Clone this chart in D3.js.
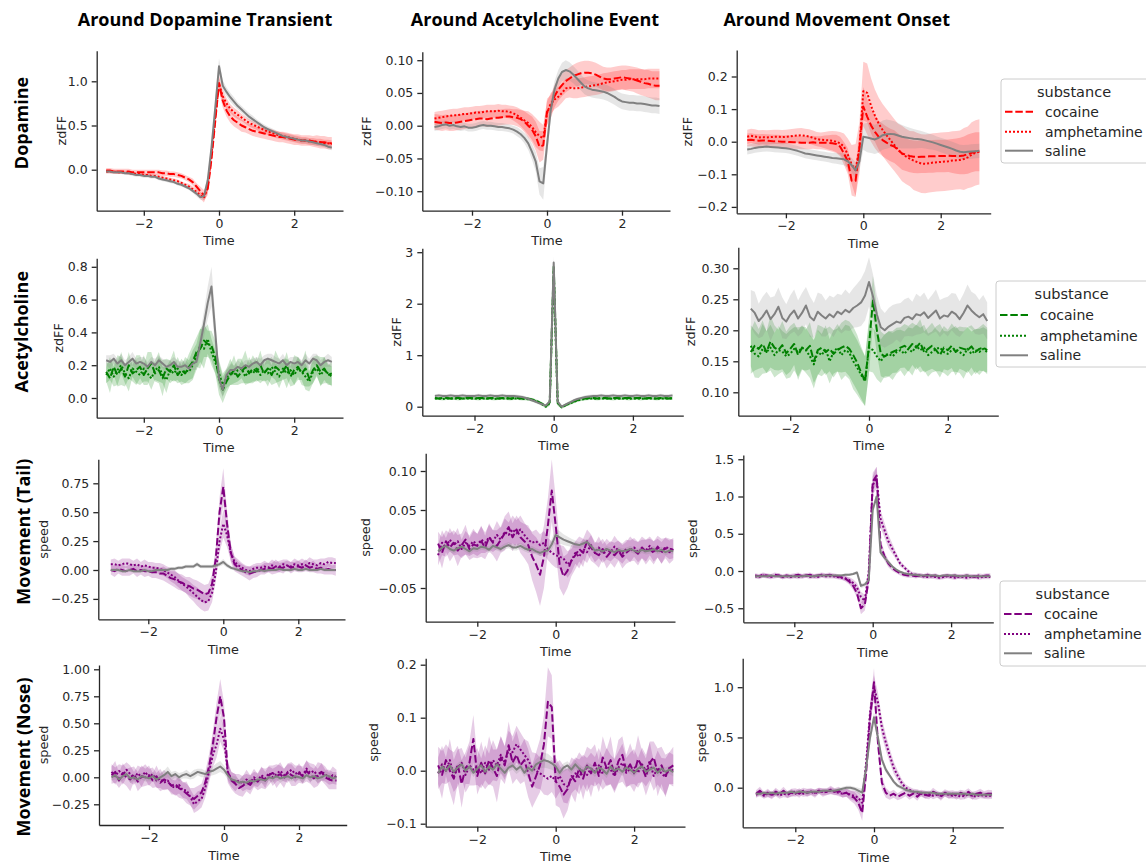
<!DOCTYPE html>
<html><head><meta charset="utf-8">
<script src="https://cdnjs.cloudflare.com/ajax/libs/d3/7.8.5/d3.min.js"></script>
<style>
  body { margin: 0; background: #fff; }
  svg { display: block; }
  .tick text { font-family: "DejaVu Sans", sans-serif; font-size: 12.5px; fill: #262626; }
  .tick line, .domain { stroke: #262626; stroke-width: 1.3; }
  .axlabel { font-family: "DejaVu Sans", sans-serif; font-size: 12.8px; fill: #262626; }
  .heading { font-family: "Open Sans", sans-serif; font-weight: 700; font-size: 18px; fill: #000; }
  .legtext { font-family: "DejaVu Sans", sans-serif; font-size: 14px; fill: #262626; }
</style>
</head>
<body>
<svg id="chart" width="1146" height="867"></svg>
<script>
// ---- shared categories / labels ----
const colTitles = ["Around Dopamine Transient", "Around Acetylcholine Event", "Around Movement Onset"];
const rowNames = ["Dopamine", "Acetylcholine", "Movement (Tail)", "Movement (Nose)"];
const rowYLabels = ["zdFF", "zdFF", "speed", "speed"];
const substances = ["cocaine", "amphetamine", "saline"];
const xTicks = [-2, 0, 2];
const xTickLabels = ["\u22122", "0", "2"];

const time = [
-3.0,-2.9,-2.8,-2.7,-2.6,-2.5,-2.4,-2.3,-2.2,-2.1,
-2.0,-1.9,-1.8,-1.7,-1.6,-1.5,-1.4,-1.3,-1.2,-1.1,
-1.0,-0.9,-0.8,-0.7,-0.6,-0.5,-0.4,-0.3,-0.2,-0.1,
0.0,0.1,0.2,0.3,0.4,0.5,0.6,0.7,0.8,0.9,
1.0,1.1,1.2,1.3,1.4,1.5,1.6,1.7,1.8,1.9,
2.0,2.1,2.2,2.3,2.4,2.5,2.6,2.7,2.8,2.9,
3.0];

// ---- Dopamine, around dopamine transient ----
const yTicks_daDA = [0, 0.5, 1.0];
const yTickLabels_daDA = ["0.0", "0.5", "1.0"];
const daDA_coc = [
-0.01,-0.01,-0.02,-0.02,-0.02,-0.02,-0.02,-0.03,-0.03,-0.03,
-0.03,-0.03,-0.03,-0.03,-0.03,-0.04,-0.04,-0.05,-0.05,-0.06,
-0.07,-0.09,-0.11,-0.14,-0.19,-0.24,-0.29,-0.22,0.12,0.55,
0.98,0.78,0.67,0.60,0.56,0.53,0.50,0.48,0.46,0.44,
0.43,0.42,0.41,0.40,0.39,0.38,0.37,0.37,0.36,0.35,
0.34,0.34,0.33,0.33,0.33,0.32,0.32,0.31,0.31,0.30,
0.30];
const daDA_cocCi = [
0.03,0.03,0.03,0.03,0.03,0.03,0.03,0.03,0.03,0.03,
0.03,0.03,0.03,0.03,0.03,0.03,0.03,0.03,0.03,0.03,
0.03,0.03,0.03,0.04,0.04,0.05,0.06,0.07,0.08,0.08,
0.09,0.08,0.07,0.07,0.07,0.07,0.07,0.06,0.06,0.06,
0.06,0.06,0.06,0.06,0.06,0.06,0.06,0.06,0.06,0.06,
0.06,0.06,0.06,0.06,0.06,0.06,0.07,0.07,0.07,0.07,
0.07];
const daDA_amp = [
-0.02,-0.02,-0.02,-0.03,-0.03,-0.03,-0.04,-0.04,-0.05,-0.05,
-0.06,-0.06,-0.07,-0.07,-0.08,-0.09,-0.10,-0.11,-0.12,-0.13,
-0.15,-0.17,-0.19,-0.22,-0.25,-0.29,-0.32,-0.20,0.18,0.60,
0.97,0.83,0.75,0.69,0.65,0.62,0.59,0.56,0.53,0.51,
0.49,0.47,0.45,0.43,0.42,0.40,0.39,0.38,0.37,0.36,
0.35,0.34,0.33,0.33,0.32,0.32,0.31,0.31,0.30,0.30,
0.29];
const daDA_ampCi = [
0.02,0.02,0.02,0.02,0.02,0.02,0.02,0.02,0.02,0.02,
0.02,0.02,0.02,0.02,0.02,0.02,0.02,0.02,0.02,0.02,
0.02,0.02,0.03,0.03,0.03,0.04,0.05,0.06,0.07,0.07,
0.08,0.07,0.06,0.05,0.05,0.05,0.04,0.04,0.04,0.04,
0.04,0.04,0.04,0.04,0.04,0.04,0.04,0.04,0.04,0.04,
0.04,0.04,0.04,0.04,0.04,0.04,0.04,0.04,0.04,0.04,
0.04];
const daDA_sal = [
-0.02,-0.02,-0.03,-0.03,-0.03,-0.04,-0.04,-0.05,-0.06,-0.06,
-0.07,-0.07,-0.08,-0.08,-0.10,-0.11,-0.12,-0.13,-0.14,-0.16,
-0.17,-0.19,-0.21,-0.24,-0.27,-0.31,-0.30,-0.12,0.25,0.70,
1.17,0.95,0.88,0.82,0.77,0.72,0.68,0.64,0.60,0.57,
0.54,0.51,0.48,0.46,0.44,0.42,0.40,0.38,0.37,0.36,
0.35,0.34,0.33,0.33,0.32,0.31,0.30,0.29,0.28,0.26,
0.25];
const daDA_salCi = [
0.02,0.02,0.02,0.02,0.02,0.02,0.02,0.02,0.02,0.02,
0.02,0.02,0.02,0.02,0.02,0.02,0.02,0.02,0.02,0.02,
0.02,0.02,0.02,0.02,0.03,0.03,0.04,0.05,0.06,0.07,
0.09,0.06,0.05,0.05,0.05,0.04,0.04,0.04,0.04,0.04,
0.03,0.03,0.03,0.03,0.03,0.03,0.03,0.03,0.03,0.03,
0.03,0.03,0.03,0.03,0.03,0.03,0.03,0.03,0.03,0.03,
0.03];

// ---- Dopamine, around acetylcholine event ----
const yTicks_daACh = [-0.10, -0.05, 0, 0.05, 0.10];
const yTickLabels_daACh = ["\u22120.10", "\u22120.05", "0.00", "0.05", "0.10"];
const daACh_coc = [
0.006,0.005,0.004,0.005,0.004,0.004,0.005,0.006,0.007,0.008,
0.009,0.010,0.011,0.011,0.010,0.011,0.012,0.012,0.013,0.014,
0.014,0.013,0.012,0.010,0.006,0.000,-0.006,-0.016,-0.032,-0.030,
0.021,0.029,0.045,0.055,0.062,0.068,0.072,0.076,0.078,0.080,
0.081,0.081,0.080,0.078,0.075,0.072,0.071,0.071,0.072,0.073,
0.074,0.073,0.072,0.071,0.069,0.067,0.065,0.064,0.062,0.061,
0.061];
const daACh_cocCi = [
0.012,0.012,0.012,0.012,0.012,0.012,0.012,0.012,0.012,0.012,
0.012,0.012,0.012,0.012,0.012,0.012,0.012,0.012,0.012,0.012,
0.012,0.012,0.013,0.014,0.016,0.018,0.020,0.022,0.024,0.022,
0.020,0.018,0.017,0.017,0.017,0.017,0.017,0.017,0.018,0.018,
0.018,0.018,0.018,0.018,0.018,0.018,0.018,0.018,0.018,0.018,
0.018,0.019,0.019,0.019,0.020,0.020,0.020,0.021,0.021,0.022,
0.022];
const daACh_amp = [
0.011,0.012,0.013,0.014,0.015,0.016,0.016,0.017,0.018,0.018,
0.019,0.020,0.020,0.021,0.022,0.022,0.022,0.023,0.022,0.022,
0.021,0.019,0.016,0.012,0.008,0.004,-0.002,-0.010,-0.016,-0.019,
0.019,0.034,0.040,0.044,0.050,0.057,0.058,0.057,0.057,0.058,
0.059,0.060,0.061,0.062,0.063,0.065,0.066,0.067,0.068,0.069,
0.070,0.070,0.071,0.071,0.071,0.071,0.071,0.072,0.072,0.072,
0.072];
const daACh_ampCi = [
0.010,0.010,0.010,0.010,0.010,0.010,0.010,0.010,0.010,0.010,
0.010,0.010,0.010,0.010,0.010,0.010,0.010,0.010,0.010,0.010,
0.010,0.011,0.012,0.013,0.015,0.018,0.020,0.022,0.022,0.020,
0.018,0.016,0.015,0.015,0.015,0.015,0.015,0.015,0.015,0.015,
0.015,0.015,0.015,0.015,0.015,0.015,0.015,0.015,0.015,0.015,
0.015,0.015,0.015,0.015,0.015,0.015,0.015,0.015,0.015,0.015,
0.015];
const daACh_sal = [
-0.002,-0.001,0.001,0.002,0.000,0.001,-0.001,-0.002,-0.001,-0.003,
-0.003,-0.002,0.000,0.001,0.000,0.000,-0.001,-0.002,-0.002,-0.003,
-0.004,-0.006,-0.009,-0.013,-0.019,-0.027,-0.040,-0.055,-0.085,-0.088,
-0.030,0.024,0.055,0.072,0.082,0.085,0.083,0.078,0.072,0.066,
0.060,0.057,0.055,0.054,0.053,0.052,0.050,0.047,0.044,0.040,
0.037,0.036,0.035,0.035,0.034,0.034,0.033,0.032,0.031,0.031,
0.030];
const daACh_salCi = [
0.006,0.006,0.006,0.006,0.006,0.006,0.006,0.006,0.006,0.006,
0.006,0.006,0.006,0.006,0.006,0.006,0.006,0.006,0.006,0.006,
0.006,0.006,0.007,0.007,0.008,0.010,0.012,0.015,0.020,0.025,
0.018,0.014,0.013,0.013,0.014,0.015,0.014,0.013,0.013,0.012,
0.012,0.012,0.012,0.012,0.012,0.012,0.012,0.012,0.012,0.012,
0.012,0.012,0.012,0.012,0.012,0.012,0.012,0.012,0.012,0.012,
0.012];

// ---- Dopamine, around movement onset ----
const yTicks_daMov = [-0.2, -0.1, 0, 0.1, 0.2];
const yTickLabels_daMov = ["\u22120.2", "\u22120.1", "0.0", "0.1", "0.2"];
const daMov_coc = [
0.005,0.006,0.004,0.003,0.004,0.003,0.002,0.001,0.001,0.000,
0.000,-0.001,-0.002,-0.002,-0.003,-0.003,-0.003,-0.002,-0.003,-0.003,
-0.003,-0.004,-0.005,-0.007,-0.015,-0.036,-0.060,-0.120,-0.120,-0.020,
0.108,0.077,0.050,0.030,0.015,0.005,-0.003,-0.010,-0.015,-0.025,
-0.036,-0.040,-0.044,-0.046,-0.047,-0.046,-0.046,-0.045,-0.045,-0.044,
-0.044,-0.044,-0.043,-0.044,-0.044,-0.044,-0.042,-0.038,-0.034,-0.031,
-0.031];
const daMov_cocCi = [
0.020,0.020,0.020,0.020,0.020,0.020,0.020,0.020,0.020,0.020,
0.020,0.020,0.020,0.020,0.020,0.020,0.020,0.020,0.020,0.020,
0.022,0.024,0.026,0.028,0.030,0.035,0.040,0.045,0.050,0.050,
0.060,0.055,0.050,0.050,0.050,0.050,0.050,0.050,0.050,0.050,
0.050,0.050,0.050,0.050,0.050,0.050,0.050,0.050,0.050,0.050,
0.050,0.050,0.050,0.052,0.054,0.056,0.058,0.060,0.060,0.060,
0.060];
const daMov_amp = [
0.015,0.018,0.016,0.013,0.014,0.013,0.014,0.015,0.015,0.014,
0.015,0.016,0.018,0.019,0.020,0.018,0.016,0.012,0.008,0.006,
0.005,0.004,0.003,0.000,-0.005,-0.015,-0.040,-0.070,-0.087,-0.020,
0.155,0.150,0.110,0.080,0.055,0.036,0.020,0.005,-0.010,-0.025,
-0.036,-0.045,-0.052,-0.058,-0.063,-0.067,-0.068,-0.066,-0.064,-0.063,
-0.062,-0.061,-0.060,-0.058,-0.057,-0.056,-0.053,-0.048,-0.040,-0.034,
-0.031];
const daMov_ampCi = [
0.022,0.022,0.022,0.022,0.022,0.022,0.022,0.022,0.022,0.022,
0.022,0.022,0.022,0.022,0.022,0.022,0.022,0.022,0.022,0.022,
0.025,0.028,0.030,0.032,0.035,0.040,0.050,0.060,0.080,0.080,
0.090,0.090,0.085,0.080,0.080,0.080,0.080,0.080,0.080,0.080,
0.085,0.085,0.085,0.090,0.090,0.090,0.090,0.090,0.090,0.090,
0.090,0.090,0.090,0.090,0.090,0.090,0.095,0.095,0.100,0.100,
0.100];
const daMov_sal = [
-0.024,-0.022,-0.019,-0.017,-0.016,-0.015,-0.016,-0.017,-0.018,-0.019,
-0.020,-0.022,-0.025,-0.028,-0.032,-0.036,-0.038,-0.040,-0.042,-0.044,
-0.046,-0.048,-0.050,-0.051,-0.052,-0.054,-0.060,-0.072,-0.088,-0.060,
0.015,0.013,0.010,0.007,0.012,0.020,0.023,0.024,0.023,0.019,
0.015,0.013,0.011,0.009,0.008,0.007,0.004,0.001,-0.002,-0.006,
-0.010,-0.014,-0.018,-0.022,-0.027,-0.031,-0.032,-0.031,-0.030,-0.029,
-0.028];
const daMov_salCi = [
0.015,0.015,0.015,0.015,0.015,0.015,0.015,0.015,0.015,0.015,
0.015,0.015,0.015,0.015,0.015,0.015,0.015,0.015,0.015,0.015,
0.015,0.015,0.016,0.017,0.018,0.018,0.020,0.022,0.025,0.030,
0.040,0.045,0.045,0.045,0.045,0.045,0.045,0.042,0.040,0.038,
0.036,0.034,0.032,0.030,0.028,0.026,0.025,0.024,0.023,0.022,
0.022,0.022,0.022,0.022,0.022,0.022,0.022,0.022,0.022,0.022,
0.022];

// ---- Acetylcholine, around dopamine transient ----
const yTicks_achDA = [0, 0.2, 0.4, 0.6, 0.8];
const yTickLabels_achDA = ["0.0", "0.2", "0.4", "0.6", "0.8"];
const achDA_coc = [
0.16,0.12,0.19,0.14,0.18,0.13,0.20,0.15,0.17,0.19,
0.14,0.18,0.21,0.15,0.17,0.12,0.18,0.16,0.20,0.14,
0.17,0.15,0.19,0.22,0.28,0.30,0.35,0.33,0.32,0.25,
0.12,0.05,0.10,0.14,0.17,0.13,0.16,0.19,0.15,0.18,
0.16,0.20,0.15,0.18,0.14,0.19,0.17,0.16,0.20,0.13,
0.17,0.19,0.15,0.18,0.12,0.17,0.20,0.16,0.18,0.14,
0.15];
const achDA_cocCi = [
0.06,0.09,0.05,0.07,0.10,0.06,0.08,0.05,0.09,0.07,
0.06,0.10,0.07,0.05,0.08,0.11,0.06,0.07,0.09,0.05,
0.07,0.06,0.08,0.10,0.09,0.12,0.10,0.08,0.09,0.10,
0.10,0.08,0.07,0.06,0.09,0.05,0.07,0.10,0.06,0.08,
0.06,0.09,0.05,0.07,0.06,0.10,0.07,0.05,0.08,0.06,
0.09,0.06,0.07,0.11,0.05,0.08,0.06,0.09,0.07,0.06,
0.07];
const achDA_amp = [
0.14,0.18,0.13,0.17,0.20,0.15,0.12,0.18,0.16,0.14,
0.18,0.15,0.12,0.17,0.19,0.14,0.11,0.17,0.15,0.18,
0.14,0.17,0.16,0.20,0.25,0.32,0.30,0.36,0.28,0.22,
0.15,0.08,0.12,0.16,0.14,0.17,0.18,0.13,0.17,0.15,
0.18,0.14,0.17,0.15,0.19,0.16,0.13,0.18,0.15,0.17,
0.14,0.18,0.16,0.13,0.10,0.16,0.18,0.14,0.17,0.15,
0.13];
const achDA_ampCi = [
0.05,0.07,0.06,0.09,0.05,0.06,0.08,0.05,0.07,0.06,
0.08,0.05,0.07,0.06,0.09,0.05,0.08,0.06,0.05,0.07,
0.06,0.08,0.07,0.09,0.08,0.10,0.12,0.09,0.08,0.07,
0.08,0.07,0.06,0.08,0.05,0.07,0.06,0.05,0.08,0.06,
0.07,0.05,0.06,0.08,0.06,0.05,0.07,0.06,0.09,0.05,
0.06,0.07,0.05,0.08,0.06,0.07,0.05,0.06,0.08,0.06,
0.06];
const achDA_sal = [
0.23,0.22,0.24,0.21,0.23,0.20,0.22,0.24,0.21,0.22,
0.21,0.19,0.22,0.20,0.23,0.21,0.19,0.20,0.22,0.19,
0.19,0.20,0.18,0.21,0.22,0.33,0.45,0.58,0.68,0.40,
0.12,0.05,0.14,0.17,0.17,0.19,0.18,0.20,0.19,0.21,
0.22,0.20,0.23,0.24,0.23,0.22,0.21,0.23,0.20,0.22,
0.21,0.22,0.20,0.23,0.21,0.24,0.23,0.20,0.22,0.23,
0.22];
const achDA_salCi = [
0.03,0.04,0.03,0.03,0.04,0.03,0.03,0.04,0.03,0.03,
0.04,0.03,0.03,0.04,0.03,0.03,0.04,0.03,0.03,0.04,
0.03,0.03,0.03,0.04,0.05,0.06,0.08,0.10,0.12,0.10,
0.06,0.05,0.04,0.04,0.03,0.04,0.03,0.03,0.04,0.03,
0.03,0.04,0.03,0.03,0.04,0.03,0.03,0.04,0.03,0.03,
0.04,0.03,0.03,0.04,0.03,0.03,0.04,0.03,0.03,0.04,
0.03];

// ---- Acetylcholine, around acetylcholine event ----
const yTicks_achACh = [0, 1, 2, 3];
const yTickLabels_achACh = ["0", "1", "2", "3"];
const achACh_coc = [
0.17,0.16,0.17,0.17,0.16,0.17,0.17,0.16,0.17,0.17,
0.16,0.17,0.17,0.16,0.17,0.17,0.16,0.17,0.17,0.16,
0.17,0.17,0.16,0.16,0.15,0.13,0.10,0.06,0.01,0.08,
2.75,0.08,-0.01,0.03,0.07,0.10,0.13,0.15,0.16,0.17,
0.17,0.16,0.17,0.17,0.16,0.17,0.17,0.16,0.17,0.17,
0.16,0.17,0.17,0.16,0.17,0.17,0.16,0.17,0.17,0.16,
0.17];
const achACh_cocCi = [
0.03,0.03,0.03,0.03,0.03,0.03,0.03,0.03,0.03,0.03,
0.03,0.03,0.03,0.03,0.03,0.03,0.03,0.03,0.03,0.03,
0.03,0.03,0.03,0.03,0.03,0.03,0.03,0.03,0.03,0.05,
0.10,0.05,0.03,0.03,0.03,0.03,0.03,0.03,0.03,0.03,
0.03,0.03,0.03,0.03,0.03,0.03,0.03,0.03,0.03,0.03,
0.03,0.03,0.03,0.03,0.03,0.03,0.03,0.03,0.03,0.03,
0.03];
const achACh_amp = [
0.16,0.16,0.15,0.16,0.16,0.16,0.15,0.16,0.16,0.16,
0.16,0.15,0.16,0.16,0.16,0.15,0.16,0.16,0.16,0.15,
0.16,0.16,0.15,0.15,0.14,0.12,0.09,0.05,0.00,0.07,
2.65,0.07,-0.01,0.03,0.06,0.09,0.12,0.14,0.15,0.16,
0.16,0.15,0.16,0.16,0.16,0.15,0.16,0.16,0.16,0.15,
0.16,0.16,0.15,0.16,0.16,0.16,0.15,0.16,0.16,0.16,
0.16];
const achACh_ampCi = [
0.03,0.03,0.03,0.03,0.03,0.03,0.03,0.03,0.03,0.03,
0.03,0.03,0.03,0.03,0.03,0.03,0.03,0.03,0.03,0.03,
0.03,0.03,0.03,0.03,0.03,0.03,0.03,0.03,0.03,0.05,
0.10,0.05,0.03,0.03,0.03,0.03,0.03,0.03,0.03,0.03,
0.03,0.03,0.03,0.03,0.03,0.03,0.03,0.03,0.03,0.03,
0.03,0.03,0.03,0.03,0.03,0.03,0.03,0.03,0.03,0.03,
0.03];
const achACh_sal = [
0.21,0.22,0.21,0.21,0.22,0.21,0.21,0.22,0.21,0.21,
0.21,0.22,0.21,0.21,0.22,0.21,0.21,0.22,0.21,0.21,
0.21,0.20,0.19,0.17,0.14,0.11,0.08,0.05,0.02,0.10,
2.80,0.10,0.00,0.04,0.08,0.12,0.15,0.17,0.19,0.20,
0.21,0.21,0.22,0.21,0.21,0.22,0.21,0.21,0.22,0.21,
0.21,0.22,0.21,0.21,0.22,0.21,0.21,0.22,0.21,0.21,
0.22];
const achACh_salCi = [
0.03,0.03,0.03,0.03,0.03,0.03,0.03,0.03,0.03,0.03,
0.03,0.03,0.03,0.03,0.03,0.03,0.03,0.03,0.03,0.03,
0.03,0.03,0.03,0.03,0.03,0.03,0.03,0.03,0.03,0.05,
0.12,0.05,0.03,0.03,0.03,0.03,0.03,0.03,0.03,0.03,
0.03,0.03,0.03,0.03,0.03,0.03,0.03,0.03,0.03,0.03,
0.03,0.03,0.03,0.03,0.03,0.03,0.03,0.03,0.03,0.03,
0.03];

// ---- Acetylcholine, around movement onset ----
const yTicks_achMov = [0.10, 0.15, 0.20, 0.25, 0.30];
const yTickLabels_achMov = ["0.10", "0.15", "0.20", "0.25", "0.30"];
const achMov_coc = [
0.165,0.175,0.170,0.178,0.165,0.182,0.172,0.168,0.176,0.163,
0.170,0.178,0.160,0.172,0.168,0.175,0.150,0.168,0.172,0.165,
0.170,0.162,0.168,0.172,0.175,0.170,0.160,0.148,0.132,0.118,
0.175,0.248,0.200,0.162,0.158,0.162,0.165,0.168,0.172,0.175,
0.170,0.178,0.172,0.180,0.165,0.170,0.175,0.168,0.160,0.172,
0.168,0.175,0.165,0.172,0.170,0.168,0.174,0.165,0.170,0.172,
0.168];
const achMov_cocCi = [
0.035,0.040,0.032,0.038,0.034,0.042,0.036,0.033,0.039,0.035,
0.037,0.034,0.040,0.036,0.033,0.038,0.035,0.041,0.034,0.037,
0.036,0.038,0.035,0.040,0.042,0.044,0.046,0.045,0.042,0.040,
0.045,0.040,0.038,0.036,0.035,0.037,0.034,0.036,0.033,0.035,
0.037,0.034,0.036,0.038,0.033,0.035,0.037,0.034,0.036,0.035,
0.033,0.036,0.038,0.034,0.035,0.037,0.034,0.036,0.035,0.038,
0.036];
const achMov_amp = [
0.175,0.162,0.158,0.170,0.165,0.172,0.160,0.168,0.166,0.158,
0.162,0.170,0.165,0.172,0.168,0.158,0.145,0.165,0.160,0.170,
0.150,0.165,0.172,0.160,0.168,0.164,0.150,0.140,0.128,0.118,
0.172,0.168,0.158,0.150,0.160,0.162,0.158,0.165,0.168,0.162,
0.170,0.165,0.175,0.168,0.172,0.160,0.165,0.170,0.172,0.165,
0.162,0.168,0.170,0.165,0.160,0.170,0.162,0.168,0.165,0.170,
0.165];
const achMov_ampCi = [
0.033,0.038,0.035,0.040,0.034,0.037,0.036,0.039,0.033,0.036,
0.038,0.035,0.040,0.034,0.037,0.035,0.039,0.036,0.034,0.038,
0.036,0.035,0.038,0.040,0.041,0.043,0.045,0.044,0.042,0.040,
0.038,0.036,0.037,0.035,0.034,0.036,0.038,0.035,0.033,0.036,
0.035,0.038,0.034,0.036,0.037,0.035,0.033,0.036,0.038,0.034,
0.036,0.035,0.037,0.034,0.038,0.035,0.036,0.034,0.037,0.035,
0.036];
const achMov_sal = [
0.235,0.228,0.215,0.222,0.232,0.218,0.226,0.238,0.220,0.214,
0.225,0.232,0.219,0.228,0.240,0.222,0.216,0.230,0.224,0.219,
0.226,0.221,0.230,0.226,0.233,0.229,0.236,0.240,0.245,0.256,
0.278,0.255,0.225,0.205,0.200,0.206,0.210,0.214,0.212,0.220,
0.222,0.218,0.226,0.224,0.229,0.220,0.226,0.232,0.219,0.224,
0.222,0.230,0.226,0.218,0.228,0.240,0.232,0.226,0.221,0.226,
0.215];
const achMov_salCi = [
0.030,0.034,0.028,0.032,0.030,0.035,0.029,0.031,0.033,0.028,
0.031,0.034,0.029,0.032,0.030,0.033,0.028,0.031,0.034,0.029,
0.030,0.032,0.029,0.031,0.033,0.030,0.032,0.035,0.038,0.040,
0.040,0.036,0.032,0.030,0.028,0.030,0.031,0.029,0.032,0.030,
0.031,0.028,0.033,0.030,0.032,0.029,0.031,0.034,0.030,0.028,
0.032,0.030,0.033,0.029,0.031,0.034,0.030,0.032,0.028,0.031,
0.030];

// ---- Movement (Tail), around dopamine transient ----
const yTicks_tailDA = [-0.25, 0, 0.25, 0.5, 0.75];
const yTickLabels_tailDA = ["\u22120.25", "0.00", "0.25", "0.50", "0.75"];
const tailDA_coc = [
0.00,-0.01,0.01,0.00,-0.01,0.00,0.01,-0.01,0.00,-0.01,
-0.01,-0.02,-0.02,-0.03,-0.03,-0.05,-0.07,-0.08,-0.10,-0.11,
-0.13,-0.14,-0.16,-0.17,-0.19,-0.21,-0.20,-0.12,0.10,0.50,
0.72,0.40,0.15,0.05,0.02,0.00,-0.02,-0.03,-0.02,-0.01,
0.00,0.01,0.02,0.01,0.03,0.02,0.02,0.04,0.02,0.03,
0.03,0.02,0.04,0.02,0.03,0.01,0.02,0.00,0.01,0.00,
0.00];
const tailDA_cocCi = [
0.04,0.05,0.04,0.05,0.04,0.05,0.04,0.05,0.04,0.05,
0.04,0.05,0.05,0.05,0.06,0.06,0.06,0.07,0.07,0.07,
0.07,0.08,0.08,0.08,0.08,0.08,0.08,0.08,0.10,0.13,
0.16,0.12,0.08,0.06,0.05,0.05,0.05,0.06,0.05,0.05,
0.04,0.05,0.04,0.05,0.06,0.04,0.05,0.04,0.05,0.04,
0.05,0.04,0.05,0.04,0.05,0.04,0.05,0.04,0.05,0.04,
0.05];
const tailDA_amp = [
0.05,0.05,0.04,0.05,0.06,0.05,0.04,0.05,0.03,0.04,
0.03,0.02,0.02,0.01,0.00,-0.02,-0.04,-0.06,-0.09,-0.12,
-0.14,-0.17,-0.20,-0.23,-0.26,-0.28,-0.27,-0.20,-0.02,0.25,
0.40,0.30,0.15,0.07,0.04,0.02,0.00,-0.01,0.01,0.02,
0.02,0.03,0.02,0.04,0.03,0.03,0.05,0.04,0.03,0.05,
0.04,0.05,0.04,0.06,0.05,0.04,0.06,0.05,0.07,0.06,
0.06];
const tailDA_ampCi = [
0.04,0.05,0.04,0.05,0.04,0.05,0.04,0.05,0.04,0.05,
0.04,0.05,0.04,0.05,0.05,0.05,0.06,0.06,0.06,0.06,
0.06,0.07,0.07,0.08,0.08,0.08,0.08,0.08,0.08,0.10,
0.12,0.10,0.07,0.05,0.05,0.04,0.04,0.04,0.04,0.04,
0.04,0.05,0.04,0.05,0.04,0.05,0.04,0.05,0.04,0.05,
0.04,0.05,0.04,0.05,0.04,0.05,0.04,0.05,0.04,0.05,
0.04];
const tailDA_sal = [
0.00,0.00,0.00,-0.01,-0.01,0.00,-0.01,-0.01,-0.01,0.00,
-0.01,-0.01,0.00,0.00,0.00,0.00,0.01,0.01,0.02,0.02,
0.03,0.03,0.03,0.05,0.03,0.03,0.03,0.03,0.04,0.05,
0.07,0.04,0.02,0.01,0.00,-0.01,-0.01,-0.02,-0.01,-0.01,
0.00,-0.01,0.00,0.00,0.00,0.01,0.00,0.00,0.00,0.01,
0.00,0.00,0.01,0.00,0.00,0.00,0.01,0.00,0.00,0.00,
0.00];
const tailDA_salCi = [
0.015,0.015,0.015,0.015,0.015,0.015,0.015,0.015,0.015,0.015,
0.015,0.015,0.015,0.015,0.015,0.015,0.015,0.015,0.015,0.015,
0.015,0.015,0.015,0.020,0.015,0.015,0.015,0.015,0.020,0.020,
0.025,0.020,0.015,0.015,0.015,0.015,0.015,0.015,0.015,0.015,
0.015,0.015,0.015,0.015,0.015,0.015,0.015,0.015,0.015,0.015,
0.015,0.015,0.015,0.015,0.015,0.015,0.015,0.015,0.015,0.015,
0.015];

// ---- Movement (Tail), around acetylcholine event ----
const yTicks_tailACh = [-0.05, 0, 0.05, 0.10];
const yTickLabels_tailACh = ["\u22120.05", "0.00", "0.05", "0.10"];
const tailACh_coc = [
0.007,-0.005,0.010,0.002,0.008,-0.002,0.005,0.012,0.000,0.006,
0.004,0.010,0.002,0.015,0.008,0.004,0.012,0.020,0.028,0.015,
0.025,0.015,0.010,0.005,-0.010,-0.020,-0.033,-0.010,0.030,0.075,
0.030,-0.020,-0.035,-0.028,-0.015,-0.008,0.000,-0.005,0.010,0.002,
-0.005,-0.008,0.000,-0.010,-0.004,-0.008,-0.002,-0.010,-0.005,0.000,
-0.002,-0.006,0.002,-0.004,0.000,-0.005,0.003,-0.003,0.001,-0.004,
0.000];
const tailACh_cocCi = [
0.015,0.020,0.014,0.018,0.016,0.020,0.015,0.019,0.014,0.017,
0.016,0.020,0.015,0.018,0.016,0.020,0.017,0.022,0.020,0.018,
0.018,0.020,0.022,0.025,0.030,0.035,0.040,0.040,0.035,0.040,
0.035,0.030,0.025,0.022,0.020,0.018,0.016,0.018,0.015,0.017,
0.014,0.016,0.013,0.015,0.014,0.016,0.013,0.015,0.014,0.016,
0.013,0.015,0.014,0.016,0.013,0.015,0.014,0.016,0.013,0.015,
0.014];
const tailACh_amp = [
-0.008,0.008,0.002,0.012,0.005,0.010,0.000,0.008,0.004,0.010,
0.005,0.012,0.008,0.015,0.010,0.018,0.012,0.022,0.018,0.025,
0.020,0.025,0.018,0.012,0.008,0.010,0.005,0.008,0.000,-0.005,
-0.008,-0.010,-0.012,-0.020,-0.015,-0.005,-0.010,0.000,-0.004,0.005,
-0.005,0.002,-0.006,0.000,-0.004,0.003,-0.002,-0.006,0.000,-0.003,
0.002,-0.004,0.000,-0.002,0.004,-0.003,0.001,-0.005,0.003,0.000,
0.000];
const tailACh_ampCi = [
0.013,0.016,0.012,0.015,0.013,0.017,0.012,0.015,0.013,0.016,
0.014,0.017,0.013,0.016,0.014,0.018,0.015,0.017,0.016,0.018,
0.017,0.018,0.016,0.015,0.014,0.015,0.014,0.015,0.014,0.015,
0.016,0.015,0.016,0.017,0.015,0.014,0.015,0.013,0.014,0.013,
0.012,0.014,0.012,0.013,0.012,0.014,0.012,0.013,0.012,0.014,
0.012,0.013,0.012,0.014,0.012,0.013,0.012,0.014,0.012,0.013,
0.012];
const tailACh_sal = [
-0.003,0.002,0.004,0.000,-0.002,0.001,0.003,0.000,-0.003,0.001,
0.000,0.003,0.002,-0.001,0.004,0.002,0.000,0.003,0.005,0.002,
0.002,0.004,0.001,-0.001,0.000,-0.003,-0.005,-0.003,-0.002,0.006,
0.018,0.015,0.012,0.010,0.008,0.006,0.005,0.007,0.009,0.004,
-0.002,-0.001,-0.003,0.000,-0.002,-0.004,-0.001,-0.003,-0.002,0.000,
-0.002,-0.004,-0.001,-0.003,-0.002,0.000,-0.003,-0.001,-0.004,-0.002,
-0.003];
const tailACh_salCi = [
0.004,0.004,0.004,0.004,0.004,0.004,0.004,0.004,0.004,0.004,
0.004,0.004,0.004,0.004,0.004,0.004,0.004,0.004,0.004,0.004,
0.004,0.004,0.004,0.004,0.004,0.004,0.004,0.005,0.006,0.007,
0.008,0.008,0.007,0.006,0.005,0.005,0.004,0.004,0.004,0.004,
0.004,0.004,0.004,0.004,0.004,0.004,0.004,0.004,0.004,0.004,
0.004,0.004,0.004,0.004,0.004,0.004,0.004,0.004,0.004,0.004,
0.004];

// ---- Movement (Tail), around movement onset ----
const yTicks_tailMov = [-0.5, 0, 0.5, 1.0, 1.5];
const yTickLabels_tailMov = ["\u22120.5", "0.0", "0.5", "1.0", "1.5"];
const tailMov_coc = [
-0.06,-0.07,-0.05,-0.06,-0.07,-0.05,-0.06,-0.08,-0.06,-0.07,
-0.06,-0.05,-0.07,-0.06,-0.05,-0.07,-0.06,-0.05,-0.06,-0.05,
-0.06,-0.07,-0.08,-0.10,-0.14,-0.20,-0.30,-0.50,-0.45,-0.10,
1.20,1.28,0.35,0.20,0.10,0.04,0.00,-0.03,-0.05,-0.06,
-0.06,-0.07,-0.06,-0.07,-0.05,-0.07,-0.06,-0.08,-0.07,-0.06,
-0.07,-0.06,-0.08,-0.07,-0.06,-0.07,-0.08,-0.06,-0.07,-0.06,
-0.06];
const tailMov_cocCi = [
0.03,0.03,0.03,0.03,0.03,0.03,0.03,0.03,0.03,0.03,
0.03,0.03,0.03,0.03,0.03,0.03,0.03,0.03,0.03,0.03,
0.03,0.03,0.03,0.04,0.04,0.05,0.06,0.08,0.08,0.10,
0.12,0.12,0.08,0.06,0.05,0.04,0.03,0.03,0.03,0.03,
0.03,0.03,0.03,0.03,0.03,0.03,0.03,0.03,0.03,0.03,
0.03,0.03,0.03,0.03,0.03,0.03,0.03,0.03,0.03,0.03,
0.03];
const tailMov_amp = [
-0.07,-0.08,-0.06,-0.07,-0.08,-0.07,-0.06,-0.08,-0.07,-0.08,
-0.07,-0.08,-0.07,-0.06,-0.08,-0.07,-0.08,-0.06,-0.07,-0.07,
-0.07,-0.08,-0.09,-0.10,-0.12,-0.16,-0.22,-0.35,-0.40,0.00,
1.15,1.25,0.70,0.55,0.40,0.30,0.20,0.10,0.05,0.00,
-0.04,-0.05,-0.06,-0.07,-0.08,-0.07,-0.08,-0.09,-0.08,-0.07,
-0.08,-0.09,-0.07,-0.08,-0.09,-0.08,-0.07,-0.09,-0.08,-0.08,
-0.08];
const tailMov_ampCi = [
0.03,0.03,0.03,0.03,0.03,0.03,0.03,0.03,0.03,0.03,
0.03,0.03,0.03,0.03,0.03,0.03,0.03,0.03,0.03,0.03,
0.03,0.03,0.03,0.03,0.04,0.05,0.06,0.07,0.08,0.10,
0.12,0.15,0.12,0.10,0.09,0.07,0.05,0.04,0.03,0.03,
0.03,0.03,0.03,0.03,0.03,0.03,0.03,0.03,0.03,0.03,
0.03,0.03,0.03,0.03,0.03,0.03,0.03,0.03,0.03,0.03,
0.03];
const tailMov_sal = [
-0.07,-0.07,-0.07,-0.07,-0.06,-0.07,-0.07,-0.07,-0.07,-0.07,
-0.07,-0.07,-0.07,-0.06,-0.07,-0.07,-0.06,-0.06,-0.06,-0.06,
-0.06,-0.06,-0.06,-0.05,-0.05,-0.04,-0.02,-0.20,-0.18,-0.12,
0.82,1.00,0.25,0.18,0.12,0.06,0.02,-0.01,-0.03,-0.04,
-0.05,-0.05,-0.06,-0.06,-0.06,-0.06,-0.06,-0.07,-0.06,-0.06,
-0.06,-0.06,-0.07,-0.07,-0.06,-0.07,-0.07,-0.07,-0.07,-0.07,
-0.07];
const tailMov_salCi = [
0.015,0.015,0.015,0.015,0.015,0.015,0.015,0.015,0.015,0.015,
0.015,0.015,0.015,0.015,0.015,0.015,0.015,0.015,0.015,0.015,
0.015,0.015,0.015,0.015,0.015,0.015,0.020,0.030,0.030,0.030,
0.050,0.050,0.040,0.030,0.020,0.020,0.015,0.015,0.015,0.015,
0.015,0.015,0.015,0.015,0.015,0.015,0.015,0.015,0.015,0.015,
0.015,0.015,0.015,0.015,0.015,0.015,0.015,0.015,0.015,0.015,
0.015];

// ---- Movement (Nose), around dopamine transient ----
const yTicks_noseDA = [-0.25, 0, 0.25, 0.5, 0.75, 1.0];
const yTickLabels_noseDA = ["\u22120.25", "0.00", "0.25", "0.50", "0.75", "1.00"];
const noseDA_coc = [
0.02,0.05,-0.03,0.04,0.00,-0.02,0.03,-0.04,0.01,0.00,
0.02,-0.03,0.01,-0.05,-0.02,-0.04,-0.08,-0.06,-0.10,-0.12,
-0.15,-0.18,-0.20,-0.17,-0.14,-0.05,0.10,0.30,0.55,0.75,
0.55,0.05,-0.03,-0.06,-0.10,-0.08,-0.05,-0.07,-0.02,-0.04,
0.00,-0.03,0.02,0.04,0.01,0.03,-0.01,0.05,0.02,0.00,
0.04,0.01,0.06,0.02,-0.01,0.03,0.05,0.00,-0.02,-0.03,
-0.03];
const noseDA_cocCi = [
0.08,0.10,0.07,0.09,0.08,0.11,0.07,0.09,0.10,0.08,
0.09,0.07,0.10,0.08,0.09,0.07,0.08,0.10,0.09,0.08,
0.09,0.08,0.10,0.09,0.08,0.10,0.11,0.12,0.14,0.16,
0.14,0.10,0.08,0.09,0.07,0.10,0.08,0.09,0.07,0.08,
0.10,0.08,0.09,0.07,0.11,0.08,0.09,0.07,0.10,0.08,
0.09,0.07,0.10,0.08,0.09,0.11,0.08,0.07,0.09,0.08,
0.08];
const noseDA_amp = [
0.05,0.01,0.06,0.02,0.07,0.03,-0.01,0.04,0.00,0.05,
0.00,0.03,-0.03,-0.01,-0.05,-0.03,-0.08,-0.10,-0.07,-0.12,
-0.12,-0.18,-0.25,-0.22,-0.20,-0.10,0.05,0.20,0.30,0.45,
0.35,0.05,-0.02,-0.05,-0.03,-0.06,-0.02,-0.05,0.00,-0.03,
0.02,-0.01,0.04,0.00,0.03,0.06,0.02,0.04,0.07,0.03,
0.05,0.02,0.08,0.04,0.06,0.01,0.05,0.03,-0.01,0.02,
0.00];
const noseDA_ampCi = [
0.07,0.08,0.06,0.09,0.07,0.08,0.06,0.07,0.09,0.07,
0.08,0.06,0.07,0.09,0.07,0.08,0.06,0.07,0.08,0.07,
0.08,0.07,0.08,0.09,0.08,0.09,0.10,0.11,0.12,0.12,
0.11,0.08,0.07,0.08,0.06,0.07,0.09,0.07,0.08,0.06,
0.07,0.09,0.06,0.08,0.07,0.08,0.06,0.09,0.07,0.08,
0.06,0.08,0.07,0.09,0.06,0.07,0.08,0.07,0.06,0.08,
0.07];
const noseDA_sal = [
0.00,0.02,-0.02,0.01,0.03,-0.01,0.00,-0.02,0.01,0.00,
-0.01,0.01,-0.02,0.00,0.02,0.05,0.01,0.03,0.00,0.02,
0.03,0.01,0.03,0.05,0.04,0.03,0.05,0.06,0.08,0.10,
0.07,0.02,-0.02,-0.03,-0.05,-0.04,-0.05,-0.03,-0.04,-0.02,
-0.02,-0.03,0.00,-0.01,0.01,-0.01,0.00,0.01,-0.01,0.01,
0.00,-0.01,0.02,0.00,0.01,-0.01,0.00,0.02,0.01,-0.01,
0.00];
const noseDA_salCi = [
0.03,0.04,0.03,0.04,0.03,0.04,0.03,0.04,0.03,0.04,
0.03,0.04,0.03,0.04,0.04,0.05,0.04,0.03,0.04,0.03,
0.04,0.03,0.04,0.03,0.04,0.03,0.04,0.04,0.05,0.05,
0.04,0.04,0.03,0.04,0.03,0.04,0.03,0.04,0.03,0.04,
0.03,0.04,0.03,0.04,0.03,0.04,0.03,0.04,0.03,0.04,
0.03,0.04,0.03,0.04,0.03,0.04,0.03,0.04,0.03,0.04,
0.03];

// ---- Movement (Nose), around acetylcholine event ----
const yTicks_noseACh = [-0.1, 0, 0.1, 0.2];
const yTickLabels_noseACh = ["\u22120.1", "0.0", "0.1", "0.2"];
const noseACh_coc = [
0.010,-0.008,0.020,0.000,-0.015,0.012,-0.025,0.005,0.015,0.060,
-0.010,0.015,-0.005,0.020,0.005,-0.010,0.025,0.010,0.048,0.015,
0.030,0.010,0.020,-0.005,-0.030,-0.010,0.010,0.050,0.130,0.120,
-0.020,-0.030,-0.045,-0.035,-0.010,-0.020,0.005,-0.015,0.010,-0.005,
0.015,-0.010,0.025,0.005,0.020,-0.008,0.018,0.030,0.000,0.012,
-0.005,0.022,0.008,-0.012,0.015,0.025,-0.003,0.010,-0.010,0.005,
0.010];
const noseACh_cocCi = [
0.035,0.045,0.030,0.040,0.050,0.035,0.045,0.030,0.040,0.045,
0.035,0.040,0.030,0.045,0.035,0.050,0.040,0.035,0.045,0.040,
0.045,0.035,0.040,0.045,0.040,0.045,0.050,0.055,0.065,0.060,
0.045,0.040,0.045,0.040,0.035,0.040,0.030,0.040,0.035,0.045,
0.035,0.030,0.040,0.035,0.045,0.030,0.040,0.035,0.030,0.040,
0.035,0.045,0.030,0.035,0.040,0.030,0.045,0.035,0.040,0.030,
0.035];
const noseACh_amp = [
-0.005,0.012,0.000,0.020,-0.010,0.005,0.015,-0.008,0.010,0.002,
0.008,-0.005,0.015,0.002,0.020,0.010,0.030,0.015,0.040,0.035,
0.050,0.040,0.030,0.020,0.005,0.000,-0.005,-0.010,-0.015,-0.010,
-0.020,-0.010,-0.025,-0.030,-0.015,-0.005,-0.012,0.002,-0.008,0.004,
-0.002,0.010,-0.006,0.008,0.002,-0.010,0.006,0.015,-0.004,0.004,
0.008,-0.004,0.012,0.000,0.018,-0.010,0.006,-0.006,-0.012,0.005,
0.000];
const noseACh_ampCi = [
0.030,0.035,0.025,0.040,0.030,0.035,0.028,0.033,0.038,0.030,
0.035,0.028,0.033,0.030,0.038,0.030,0.035,0.032,0.036,0.030,
0.035,0.032,0.030,0.035,0.030,0.033,0.030,0.035,0.032,0.030,
0.033,0.030,0.035,0.032,0.028,0.030,0.033,0.028,0.032,0.030,
0.028,0.033,0.030,0.035,0.028,0.032,0.030,0.036,0.028,0.030,
0.033,0.028,0.032,0.030,0.036,0.028,0.032,0.030,0.035,0.030,
0.030];
const noseACh_sal = [
-0.005,0.008,0.000,0.010,-0.002,0.006,0.012,0.000,0.008,-0.004,
0.004,0.010,-0.002,0.008,0.002,0.012,0.004,-0.004,0.006,0.010,
0.002,0.008,-0.004,0.006,0.000,0.012,0.016,0.020,0.018,0.014,
0.008,-0.004,0.006,0.010,0.002,0.012,0.004,-0.002,0.008,0.004,
-0.004,0.006,0.002,-0.006,0.008,0.000,0.004,-0.002,0.006,0.002,
-0.004,0.004,0.008,-0.002,0.002,0.006,-0.004,0.004,-0.002,0.002,
-0.003];
const noseACh_salCi = [
0.008,0.008,0.008,0.008,0.008,0.008,0.008,0.008,0.008,0.008,
0.008,0.008,0.008,0.008,0.008,0.008,0.008,0.008,0.008,0.008,
0.008,0.008,0.008,0.008,0.008,0.010,0.012,0.014,0.014,0.012,
0.010,0.008,0.008,0.008,0.008,0.008,0.008,0.008,0.008,0.008,
0.008,0.008,0.008,0.008,0.008,0.008,0.008,0.008,0.008,0.008,
0.008,0.008,0.008,0.008,0.008,0.008,0.008,0.008,0.008,0.008,
0.008];

// ---- Movement (Nose), around movement onset ----
const yTicks_noseMov = [0, 0.5, 1.0];
const yTickLabels_noseMov = ["0.0", "0.5", "1.0"];
const noseMov_coc = [
-0.06,-0.03,-0.07,-0.05,-0.08,-0.04,-0.06,-0.03,-0.07,-0.05,
-0.04,-0.06,-0.03,-0.05,-0.04,-0.06,-0.03,-0.05,-0.04,-0.02,
-0.04,-0.03,-0.06,-0.05,-0.08,-0.10,-0.15,-0.25,0.15,0.70,
1.05,0.45,0.05,-0.05,-0.08,-0.06,-0.09,-0.07,-0.05,-0.08,
-0.06,-0.09,-0.05,-0.07,-0.08,-0.04,-0.06,-0.09,-0.05,-0.07,
-0.06,-0.08,-0.05,-0.07,-0.04,-0.08,-0.06,-0.05,-0.07,-0.06,
-0.06];
const noseMov_cocCi = [
0.035,0.040,0.030,0.040,0.035,0.040,0.030,0.040,0.035,0.040,
0.035,0.040,0.030,0.040,0.035,0.040,0.030,0.040,0.035,0.040,
0.035,0.040,0.040,0.040,0.050,0.060,0.070,0.080,0.100,0.120,
0.140,0.100,0.070,0.050,0.040,0.040,0.035,0.040,0.035,0.040,
0.035,0.040,0.030,0.040,0.035,0.040,0.030,0.040,0.035,0.040,
0.035,0.040,0.030,0.040,0.035,0.040,0.030,0.040,0.035,0.040,
0.035];
const noseMov_amp = [
-0.07,-0.05,-0.08,-0.06,-0.07,-0.05,-0.08,-0.06,-0.07,-0.05,
-0.06,-0.04,-0.06,-0.05,-0.04,-0.05,-0.03,-0.04,-0.04,-0.03,
-0.04,-0.05,-0.06,-0.05,-0.07,-0.08,-0.10,-0.15,0.25,0.75,
1.00,0.85,0.60,0.45,0.32,0.20,0.12,0.05,0.00,-0.02,
-0.04,-0.05,-0.06,-0.07,-0.06,-0.08,-0.07,-0.08,-0.06,-0.07,
-0.08,-0.07,-0.09,-0.08,-0.07,-0.08,-0.09,-0.07,-0.08,-0.08,
-0.08];
const noseMov_ampCi = [
0.030,0.035,0.030,0.035,0.030,0.035,0.030,0.035,0.030,0.035,
0.030,0.035,0.030,0.035,0.030,0.035,0.030,0.035,0.030,0.035,
0.030,0.035,0.035,0.040,0.045,0.050,0.060,0.070,0.090,0.100,
0.120,0.100,0.090,0.080,0.070,0.060,0.050,0.040,0.035,0.030,
0.030,0.035,0.030,0.035,0.030,0.035,0.030,0.035,0.030,0.035,
0.030,0.035,0.030,0.035,0.030,0.035,0.030,0.035,0.030,0.035,
0.030];
const noseMov_sal = [
-0.06,-0.06,-0.05,-0.06,-0.05,-0.06,-0.05,-0.05,-0.05,-0.04,
-0.05,-0.04,-0.04,-0.05,-0.04,-0.04,-0.04,-0.03,-0.03,-0.03,
-0.03,-0.02,-0.01,0.00,0.00,-0.01,-0.03,-0.05,0.20,0.50,
0.70,0.50,0.28,0.18,0.12,0.06,0.02,0.00,-0.02,-0.03,
-0.04,-0.04,-0.05,-0.05,-0.05,-0.05,-0.06,-0.06,-0.06,-0.06,
-0.06,-0.06,-0.06,-0.06,-0.07,-0.06,-0.07,-0.07,-0.07,-0.07,
-0.07];
const noseMov_salCi = [
0.020,0.020,0.020,0.020,0.020,0.020,0.020,0.020,0.020,0.020,
0.020,0.020,0.020,0.020,0.020,0.020,0.020,0.020,0.020,0.020,
0.020,0.020,0.020,0.020,0.020,0.020,0.030,0.040,0.050,0.050,
0.060,0.050,0.040,0.030,0.020,0.020,0.020,0.020,0.020,0.020,
0.020,0.020,0.020,0.020,0.020,0.020,0.020,0.020,0.020,0.020,
0.020,0.020,0.020,0.020,0.020,0.020,0.020,0.020,0.020,0.020,
0.020];

// ---- table of panels (built from the arrays above) ----
const panelSeries = [
  [[daDA_coc, daDA_cocCi], [daDA_amp, daDA_ampCi], [daDA_sal, daDA_salCi], yTicks_daDA, yTickLabels_daDA],
  [[daACh_coc, daACh_cocCi], [daACh_amp, daACh_ampCi], [daACh_sal, daACh_salCi], yTicks_daACh, yTickLabels_daACh],
  [[daMov_coc, daMov_cocCi], [daMov_amp, daMov_ampCi], [daMov_sal, daMov_salCi], yTicks_daMov, yTickLabels_daMov],
  [[achDA_coc, achDA_cocCi], [achDA_amp, achDA_ampCi], [achDA_sal, achDA_salCi], yTicks_achDA, yTickLabels_achDA],
  [[achACh_coc, achACh_cocCi], [achACh_amp, achACh_ampCi], [achACh_sal, achACh_salCi], yTicks_achACh, yTickLabels_achACh],
  [[achMov_coc, achMov_cocCi], [achMov_amp, achMov_ampCi], [achMov_sal, achMov_salCi], yTicks_achMov, yTickLabels_achMov],
  [[tailDA_coc, tailDA_cocCi], [tailDA_amp, tailDA_ampCi], [tailDA_sal, tailDA_salCi], yTicks_tailDA, yTickLabels_tailDA],
  [[tailACh_coc, tailACh_cocCi], [tailACh_amp, tailACh_ampCi], [tailACh_sal, tailACh_salCi], yTicks_tailACh, yTickLabels_tailACh],
  [[tailMov_coc, tailMov_cocCi], [tailMov_amp, tailMov_ampCi], [tailMov_sal, tailMov_salCi], yTicks_tailMov, yTickLabels_tailMov],
  [[noseDA_coc, noseDA_cocCi], [noseDA_amp, noseDA_ampCi], [noseDA_sal, noseDA_salCi], yTicks_noseDA, yTickLabels_noseDA],
  [[noseACh_coc, noseACh_cocCi], [noseACh_amp, noseACh_ampCi], [noseACh_sal, noseACh_salCi], yTicks_noseACh, yTickLabels_noseACh],
  [[noseMov_coc, noseMov_cocCi], [noseMov_amp, noseMov_ampCi], [noseMov_sal, noseMov_salCi], yTicks_noseMov, yTickLabels_noseMov]
];

// ---- layout: axes boxes in pixels, pixel of t=0 / value 0 and pixels per unit ----
const boxes = [
  {L:96.7, R:343,   T:50.7,  B:210.7, x0:219,   xu:37.6,  y0:169.7, yu:88.4,  yl:61},
  {L:422.3,R:670,   T:51.7,  B:210.7, x0:547,   xu:37.5,  y0:125.7, yu:655,   yl:366},
  {L:736.7,R:990.7, T:50,    B:213.3, x0:863.3, xu:38.7,  y0:141.7, yu:326,   yl:687},
  {L:96.7, R:343,   T:258.3, B:417.7, x0:219,   xu:37.6,  y0:398,   yu:164,   yl:58},
  {L:422.3,R:683.3, T:248.3, B:415.7, x0:553.7, xu:39.6,  y0:406.7, yu:51.5,  yl:396},
  {L:738.3,R:998.3, T:247.3, B:415.7, x0:869,   xu:39.4,  y0:454.3, yu:620,   yl:690},
  {L:98.3, R:345,   T:459.3, B:619.3, x0:223.3, xu:37.5,  y0:570,   yu:115.6, yl:43},
  {L:425.7,R:675,   T:453.3, B:621.7, x0:555.7, xu:39.2,  y0:549,   yu:780,   yl:365},
  {L:743.3,R:993.3, T:455,   B:622.3, x0:872.7, xu:39.2,  y0:571,   yu:74.5,  yl:692},
  {L:99,   R:346.7, T:665,   B:825,   x0:224,   xu:37.5,  y0:777.3, yu:108,   yl:43},
  {L:425.7,R:685,   T:658.3, B:826.7, x0:555.7, xu:39.2,  y0:770.7, yu:530,   yl:373},
  {L:742.7,R:1003.3,T:658.3, B:827.3, x0:874,   xu:39.35, y0:787.7, yu:100.5, yl:701.7}
];
const rowColors = ["#ff0000", "#008000", "#800080"];
const salineColor = "#808080";
const dashes = ["7.5,2.8", "2,2", null];
const lineWidth = 2;

const svg = d3.select("#chart");

panelSeries.forEach((p, i) => {
  const box = boxes[i];
  const row = Math.floor(i / 3);
  const colorRow = rowColors[Math.min(row, 2)];
  const x = d3.scaleLinear()
    .domain([(box.L - box.x0) / box.xu, (box.R - box.x0) / box.xu])
    .range([box.L, box.R]);
  const y = d3.scaleLinear()
    .domain([(box.y0 - box.B) / box.yu, (box.y0 - box.T) / box.yu])
    .range([box.B, box.T]);
  const g = svg.append("g");
  const series = p.slice(0, 3).map((s, k) => ({
    color: k === 2 ? salineColor : colorRow,
    dash: dashes[k],
    pts: time.map((t, j) => ({ t: t, m: s[0][j], c: s[1][j] }))
  }));

  const area = d3.area().x(d => x(d.t)).y0(d => y(d.m - d.c)).y1(d => y(d.m + d.c));
  const line = d3.line().x(d => x(d.t)).y(d => y(d.m));

  // bands sit below all lines (matplotlib zorder)
  series.forEach(s => {
    g.append("path").datum(s.pts).attr("d", area)
      .attr("fill", s.color).attr("fill-opacity", 0.2).attr("stroke", "none");
  });
  series.forEach(s => {
    g.append("path").datum(s.pts).attr("d", line)
      .attr("fill", "none").attr("stroke", s.color).attr("stroke-width", lineWidth)
      .attr("stroke-linejoin", "round")
      .attr("stroke-dasharray", s.dash);
  });

  svg.append("g").attr("class", "axis")
    .attr("transform", `translate(0,${box.B})`)
    .call(d3.axisBottom(x).tickValues(xTicks).tickFormat((d, k) => xTickLabels[k])
      .tickSize(5).tickSizeOuter(0).tickPadding(3));
  svg.append("g").attr("class", "axis")
    .attr("transform", `translate(${box.L},0)`)
    .call(d3.axisLeft(y).tickValues(p[3]).tickFormat((d, k) => p[4][k])
      .tickSize(5).tickSizeOuter(0).tickPadding(4));

  svg.append("text").attr("class", "axlabel")
    .attr("x", box.x0).attr("y", box.B + 30)
    .attr("text-anchor", "middle").attr("dominant-baseline", "central")
    .text("Time");
  svg.append("text").attr("class", "axlabel")
    .attr("transform", `translate(${box.yl},${(box.T + box.B) / 2}) rotate(-90)`)
    .attr("text-anchor", "middle").attr("dominant-baseline", "central")
    .text(rowYLabels[row]);
});

// column titles and row labels
const colTitleX = [205, 535, 836.7];
colTitles.forEach((t, i) => {
  svg.append("text").attr("class", "heading")
    .attr("x", colTitleX[i]).attr("y", 18.5)
    .attr("text-anchor", "middle").attr("dominant-baseline", "central").text(t);
});
const rowLabelPos = [[20.7, 123], [20.7, 331.7], [23, 531.7], [23, 757]];
rowNames.forEach((t, i) => {
  svg.append("text").attr("class", "heading")
    .attr("transform", `translate(${rowLabelPos[i][0]},${rowLabelPos[i][1]}) rotate(-90)`)
    .attr("text-anchor", "middle").attr("dominant-baseline", "central").text(t);
});

// legends
const legends = [
  {x: 1001, y: 79,  h: 84, color: rowColors[0], title: 1074,   rows: [111.7, 131.7, 150.7]},
  {x: 996,  y: 281, h: 86, color: rowColors[1], title: 1071.7, rows: [315, 335.7, 355.3]},
  {x: 1000, y: 581, h: 85, color: rowColors[2], title: 1072.7, rows: [614, 634, 653.3]}
];
legends.forEach(lg => {
  const g = svg.append("g");
  g.append("rect").attr("x", lg.x).attr("y", lg.y).attr("width", 170).attr("height", lg.h)
    .attr("rx", 3).attr("fill", "#fff").attr("fill-opacity", 0.8)
    .attr("stroke", "#cccccc").attr("stroke-width", 1);
  g.append("text").attr("class", "legtext").style("font-size", "14.5px")
    .attr("x", lg.title).attr("y", lg.y + 12.5)
    .attr("text-anchor", "middle").attr("dominant-baseline", "central").text("substance");
  substances.forEach((s, k) => {
    const yy = lg.rows[k];
    g.append("line").attr("x1", lg.x + 4).attr("x2", lg.x + 32).attr("y1", yy).attr("y2", yy)
      .attr("stroke", k === 2 ? salineColor : lg.color).attr("stroke-width", lineWidth)
      .attr("stroke-dasharray", dashes[k]);
    g.append("text").attr("class", "legtext")
      .attr("x", lg.x + 44).attr("y", yy)
      .attr("dominant-baseline", "central").text(s);
  });
});

// sanity check on array lengths
const bad = [];
panelSeries.forEach((p, i) => p.slice(0, 3).forEach((s, k) => {
  if (s[0].length !== time.length || s[1].length !== time.length)
    bad.push(`panel ${i} series ${k}: ${s[0].length}/${s[1].length}`);
}));
if (bad.length) console.error("length mismatch: " + bad.join("; "));
</script>
</body></html>
